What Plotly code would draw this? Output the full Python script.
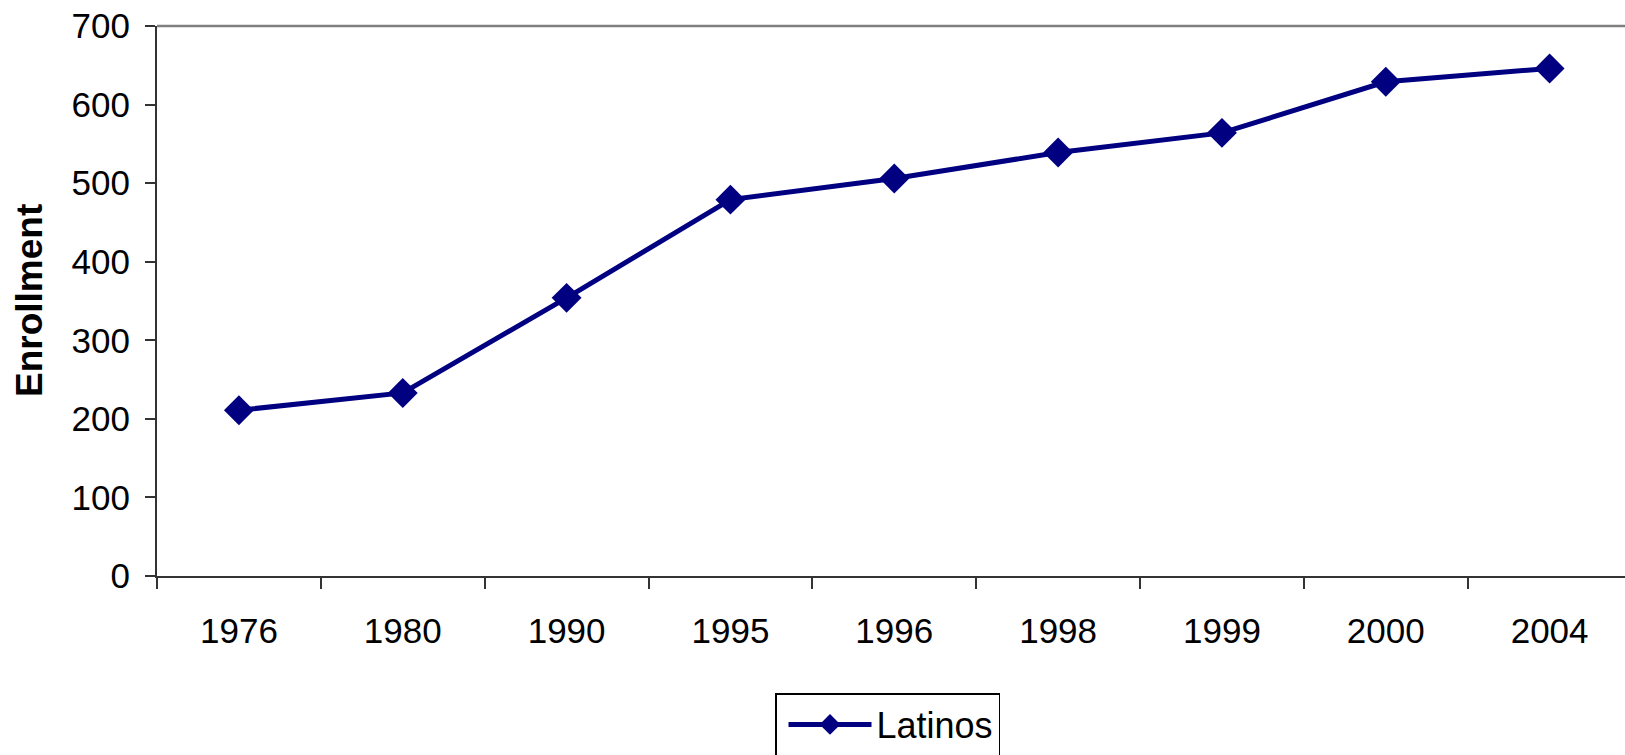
import plotly.graph_objects as go

years = ["1976", "1980", "1990", "1995", "1996", "1998", "1999", "2000", "2004"]
latinos = [211, 233, 354, 479, 506, 539, 564, 629, 646]
y_ticks = [0, 100, 200, 300, 400, 500, 600, 700]

navy = "#000080"
font_family = "Liberation Sans, Arial, sans-serif"

fig = go.Figure()
fig.add_trace(go.Scatter(
    x=years, y=latinos, name="Latinos", mode="lines+markers",
    line=dict(color=navy, width=5),
    marker=dict(symbol="diamond", size=23, color=navy),
))

fig.update_layout(
    width=1625, height=755,
    margin=dict(l=157, r=0, t=26, b=179, autoexpand=False),
    paper_bgcolor="white", plot_bgcolor="white",
    font=dict(family=font_family, size=35, color="black"),
    showlegend=True,
    legend=dict(
        xref="container", yref="container",
        x=775 / 1625, y=1 - 693 / 755, xanchor="left", yanchor="top",
        bordercolor="black", borderwidth=1.5,
        font=dict(size=36), itemwidth=83, indentation=7,
    ),
    xaxis=dict(
        type="category", range=[-0.5, 8.46], automargin=False,
        showgrid=False, showline=True, linecolor="#333333", linewidth=2,
        ticks="outside", tickson="boundaries", ticklen=11, tickcolor="#333333",
        tickwidth=1.5, ticklabelstandoff=23, zeroline=False,
    ),
    yaxis=dict(
        range=[0, 700], tickvals=y_ticks, automargin=False,
        showgrid=False, showline=True, linecolor="#333333", linewidth=2,
        ticks="outside", ticklen=10, tickcolor="#333333", tickwidth=1.5,
        ticklabelstandoff=8, zeroline=False, ticklabeloverflow="allow",
    ),
    annotations=[dict(
        text="<b>Enrollment</b>", xref="paper", yref="paper",
        x=(29 - 157) / 1468, y=0.5, xanchor="center", yanchor="middle",
        textangle=-90, showarrow=False, font=dict(size=37),
    )],
    shapes=[dict(type="line", xref="paper", yref="paper", x0=0, x1=1, y0=1, y1=1,
                 line=dict(color="#808080", width=2.5))],
)

fig.write_html("out.html", config={"displayModeBar": False},
               post_script="document.body.style.margin='0';")
